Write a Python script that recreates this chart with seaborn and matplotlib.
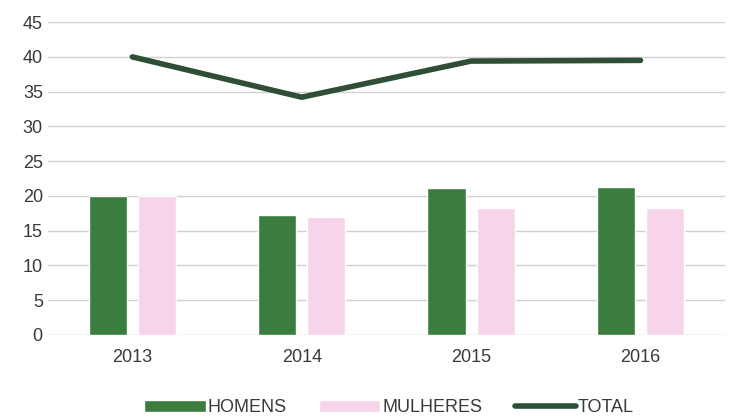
import pandas as pd
import seaborn as sns
import matplotlib.pyplot as plt
from matplotlib.patches import Patch
from matplotlib.lines import Line2D

years = ["2013", "2014", "2015", "2016"]
homens = [20.0, 17.2, 21.2, 21.3]
mulheres = [20.0, 17.0, 18.2, 18.3]
total = [40.0, 34.2, 39.4, 39.5]

green = "#3a7d3e"
pink = "#f6d4ea"
dark = "#2f4f34"
text_color = "#3a3a3a"

sns.set_style("white")
plt.rcParams["font.family"] = ["Liberation Sans", "DejaVu Sans"]

df = pd.DataFrame({
    "ano": years * 2,
    "valor": homens + mulheres,
    "sexo": ["HOMENS"] * len(years) + ["MULHERES"] * len(years),
})

fig = plt.figure(figsize=(7.34, 4.18), dpi=100)
ax = fig.add_axes([0.065, 0.199, 0.923, 0.748])

sns.barplot(
    data=df, x="ano", y="valor", hue="sexo",
    palette=[green, pink], width=0.58, gap=0.22,
    errorbar=None, legend=False, ax=ax, saturation=1,
)
sns.pointplot(
    x=years, y=total, color=dark, markers="",
    linewidth=4, errorbar=None, ax=ax,
)
for ln in ax.lines:
    ln.set_solid_capstyle("round")

ax.set_ylim(0, 45)
ax.set_xlim(-0.5, 3.5)
ax.set_yticks(range(0, 50, 5))
ax.yaxis.grid(True, color="#d0d0d0", linewidth=1)
ax.set_axisbelow(True)
for s in ax.spines.values():
    s.set_visible(False)
ax.set_xlabel("")
ax.set_ylabel("")
ax.tick_params(axis="both", length=0, labelsize=13, colors=text_color)
ax.tick_params(axis="x", pad=10)

handles = [
    Patch(facecolor=green, label="HOMENS"),
    Patch(facecolor=pink, label="MULHERES"),
    Line2D([0], [0], color=dark, linewidth=4, solid_capstyle="round", label="TOTAL"),
]
fig.legend(
    handles=handles, loc="lower center", bbox_to_anchor=(0.53, -0.035),
    ncol=3, frameon=False, fontsize=13, handlelength=3.4,
    handletextpad=0.1, columnspacing=1.8, labelcolor=text_color,
)

fig.savefig("out.png", dpi=100)
